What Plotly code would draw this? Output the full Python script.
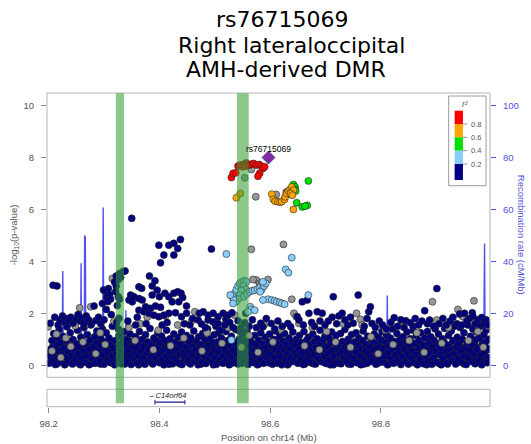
import plotly.graph_objects as go

# ---------------- data ----------------
lead_snp = "rs76715069"
lead_pos = 98.597
lead_logp = 7.99

# recombination rate (cM/Mb) along the region
rec_pos = [98.197, 98.205, 98.215, 98.2245, 98.2255, 98.2265, 98.240, 98.2575, 98.2585, 98.2595,
           98.2642, 98.2650, 98.2656, 98.2662, 98.2672, 98.280, 98.2975, 98.2985, 98.2995, 98.320,
           98.3385, 98.3395, 98.3405, 98.380, 98.450, 98.520, 98.600, 98.6755, 98.6765, 98.6775,
           98.740, 98.8105, 98.8115, 98.8125, 98.8155, 98.8165, 98.8175, 98.880, 98.9355, 98.9365,
           98.9375, 98.980, 98.9855, 98.9862, 98.9872, 98.9882, 98.997]
rec_rate = [1.5, 2.0, 1.2, 1.0, 36.3, 1.5, 2.2, 2.0, 39.2, 2.5,
            3.0, 50.0, 6.0, 49.5, 3.0, 1.8, 1.0, 60.7, 1.2, 2.0,
            1.5, 21.2, 1.5, 2.5, 3.0, 2.0, 1.5, 1.0, 11.0, 1.0,
            2.0, 1.8, 26.8, 2.0, 1.5, 18.0, 1.5, 3.0, 1.0, 10.0,
            1.0, 2.5, 3.0, 46.8, 46.8, 4.0, 4.0]

# DMR intervals (Mb)
dmr_regions = [(98.3212, 98.3361), (98.5402, 98.5612)]

# gene track
gene_name = "C14orf64"
gene_start, gene_end = 98.392, 98.446

# SNPs with r2 < 0.2 (position Mb, -log10 p)
snps_navy_base = [
    (98.201, 0.08), (98.203, 0.35), (98.204, 0.62), (98.206, 0.95), (98.207, 0.18), (98.209, 1.22), (98.210, 0.48), (98.212, 0.03), (98.213, 0.77), (98.215, 1.05),
    (98.216, 0.27), (98.218, 0.55), (98.219, 1.38), (98.221, 0.12), (98.222, 0.88), (98.224, 0.41), (98.226, 1.12), (98.227, 0.66), (98.229, 0.02), (98.230, 0.31),
    (98.232, 0.95), (98.233, 1.48), (98.235, 0.52), (98.236, 0.15), (98.238, 0.74), (98.239, 1.25), (98.241, 0.37), (98.243, 0.05), (98.244, 0.99), (98.246, 0.60),
    (98.247, 1.62), (98.249, 0.22), (98.250, 0.83),
    (98.252, 1.35), (98.253, 0.44), (98.255, 0.06), (98.256, 0.71), (98.258, 1.08), (98.259, 0.29), (98.261, 0.92), (98.263, 0.53), (98.264, 1.45), (98.266, 0.12),
    (98.267, 0.80), (98.269, 0.36), (98.270, 1.18), (98.272, 0.62), (98.273, 0.02), (98.275, 0.97), (98.276, 1.55), (98.278, 0.25), (98.280, 0.70), (98.281, 0.45),
    (98.283, 1.10), (98.284, 0.08), (98.286, 0.86), (98.287, 1.32), (98.289, 0.33), (98.290, 0.58), (98.292, 0.15), (98.294, 1.02), (98.295, 0.75), (98.297, 1.40),
    (98.298, 0.40), (98.300, 0.04),
    (98.301, 0.90), (98.303, 0.60), (98.304, 1.25), (98.306, 0.20), (98.307, 0.50), (98.309, 1.05), (98.311, 0.78), (98.312, 0.10), (98.314, 0.35), (98.315, 1.50),
    (98.317, 0.66), (98.319, 0.02), (98.320, 0.95), (98.322, 0.42), (98.323, 0.18), (98.325, 0.72), (98.327, 1.15), (98.328, 0.30), (98.330, 0.55), (98.331, 0.06),
    (98.333, 0.88), (98.335, 0.25), (98.336, 1.30), (98.338, 0.47), (98.339, 0.80), (98.341, 0.12), (98.342, 1.00), (98.344, 0.58), (98.346, 0.34), (98.347, 1.20),
    (98.349, 0.03), (98.350, 0.70),
    (98.352, 0.92), (98.353, 0.20), (98.355, 0.48), (98.357, 1.10), (98.358, 0.65), (98.360, 0.08), (98.361, 0.38), (98.363, 0.85), (98.364, 1.30), (98.366, 0.15),
    (98.368, 0.55), (98.369, 1.00), (98.371, 0.28), (98.372, 0.74), (98.374, 0.04), (98.375, 1.18), (98.377, 0.45), (98.379, 0.90), (98.380, 0.62), (98.382, 0.18),
    (98.383, 1.42), (98.385, 0.33), (98.386, 0.80), (98.388, 0.05), (98.390, 1.05), (98.391, 0.52), (98.393, 0.26), (98.394, 0.96), (98.396, 0.68), (98.397, 1.25),
    (98.399, 0.12),
    (98.401, 0.43), (98.402, 0.87), (98.404, 1.12), (98.405, 0.22), (98.407, 0.60), (98.408, 0.02), (98.410, 0.95), (98.412, 0.36), (98.413, 1.35), (98.415, 0.70),
    (98.416, 0.14), (98.418, 0.50), (98.419, 1.02), (98.421, 0.82), (98.423, 0.30), (98.424, 0.06), (98.426, 1.20), (98.427, 0.58), (98.429, 0.90), (98.430, 0.24),
    (98.432, 0.66), (98.434, 1.08), (98.435, 0.10), (98.437, 0.44), (98.438, 0.79), (98.440, 1.28), (98.441, 0.03), (98.443, 0.55), (98.445, 0.97), (98.446, 0.32),
    (98.448, 0.70), (98.449, 1.15),
    (98.451, 0.20), (98.452, 0.50), (98.454, 0.88), (98.456, 0.05), (98.457, 1.05), (98.459, 0.40), (98.460, 0.72), (98.462, 1.32), (98.463, 0.16), (98.465, 0.60),
    (98.467, 0.93), (98.468, 0.28), (98.470, 0.02), (98.471, 1.10), (98.473, 0.47), (98.474, 0.80), (98.476, 0.12), (98.478, 1.22), (98.479, 0.64), (98.481, 0.35),
    (98.482, 0.98), (98.484, 0.07), (98.485, 0.55), (98.487, 1.40), (98.489, 0.25), (98.490, 0.76), (98.492, 1.02), (98.493, 0.42), (98.495, 0.14), (98.496, 0.86),
    (98.498, 0.62), (98.499, 1.18),
    (98.501, 0.30), (98.503, 0.04), (98.504, 0.90), (98.506, 0.52), (98.507, 1.25), (98.509, 0.18), (98.511, 0.70), (98.512, 1.05), (98.514, 0.38), (98.515, 0.08),
    (98.517, 0.84), (98.518, 0.60), (98.520, 1.30), (98.522, 0.22), (98.523, 0.95), (98.525, 0.45), (98.526, 0.02), (98.528, 0.75), (98.530, 1.12), (98.531, 0.32),
    (98.533, 0.58), (98.534, 0.10), (98.536, 0.88), (98.538, 1.38), (98.539, 0.42), (98.541, 0.68), (98.542, 0.05), (98.544, 1.00), (98.545, 0.27), (98.547, 0.80),
    (98.549, 0.50), (98.550, 1.20),
    (98.552, 0.14), (98.553, 0.62), (98.555, 0.95), (98.556, 0.35), (98.558, 1.30), (98.560, 0.03), (98.561, 0.72), (98.563, 0.48), (98.564, 1.05), (98.566, 0.20),
    (98.568, 0.85), (98.569, 0.56), (98.571, 0.10), (98.572, 1.15), (98.574, 0.38), (98.575, 0.78), (98.577, 0.02), (98.579, 0.97), (98.580, 0.60), (98.582, 0.25),
    (98.583, 1.25), (98.585, 0.45), (98.587, 0.82), (98.588, 0.08), (98.590, 0.66), (98.591, 1.08), (98.593, 0.30), (98.594, 0.52), (98.596, 0.90), (98.598, 0.15),
    (98.599, 1.20),
    (98.601, 0.42), (98.602, 0.75), (98.604, 0.04), (98.606, 1.00), (98.607, 0.28), (98.609, 0.60), (98.610, 1.32), (98.612, 0.86), (98.614, 0.12), (98.615, 0.50),
    (98.617, 1.10), (98.618, 0.35), (98.620, 0.70), (98.621, 0.02), (98.623, 0.94), (98.625, 0.58), (98.626, 1.22), (98.628, 0.20), (98.629, 0.80), (98.631, 0.44),
    (98.633, 0.06), (98.634, 1.05), (98.636, 0.65), (98.637, 0.30), (98.639, 0.90), (98.641, 1.28), (98.642, 0.15), (98.644, 0.52), (98.645, 0.78), (98.647, 1.00),
    (98.648, 0.36), (98.650, 0.08),
    (98.652, 0.62), (98.653, 1.15), (98.655, 0.25), (98.656, 0.88), (98.658, 0.45), (98.660, 0.03), (98.661, 1.30), (98.663, 0.70), (98.664, 0.18), (98.666, 0.96),
    (98.668, 0.55), (98.669, 1.08), (98.671, 0.32), (98.672, 0.80), (98.674, 0.10), (98.675, 0.60), (98.677, 1.20), (98.679, 0.40), (98.680, 0.92), (98.682, 0.05),
    (98.683, 0.68), (98.685, 1.02), (98.687, 0.24), (98.688, 0.50), (98.690, 1.35), (98.691, 0.84), (98.693, 0.14), (98.695, 0.60), (98.696, 0.98), (98.698, 0.35),
    (98.699, 1.12),
    (98.701, 0.07), (98.703, 0.72), (98.704, 0.46), (98.706, 1.05), (98.707, 0.20), (98.709, 0.88), (98.711, 1.28), (98.712, 0.58), (98.714, 0.02), (98.715, 0.36),
    (98.717, 0.95), (98.719, 1.15), (98.720, 0.65), (98.722, 0.13), (98.723, 0.82), (98.725, 0.42), (98.727, 1.22), (98.728, 0.06), (98.730, 0.55), (98.731, 0.92),
    (98.733, 0.28), (98.735, 1.38), (98.736, 0.70), (98.738, 0.16), (98.739, 0.48), (98.741, 1.00), (98.743, 0.85), (98.744, 0.33), (98.746, 0.04), (98.747, 1.18),
    (98.749, 0.62),
    (98.751, 0.25), (98.752, 0.90), (98.754, 0.50), (98.755, 1.25), (98.757, 0.10), (98.759, 0.75), (98.760, 1.05), (98.762, 0.38), (98.764, 0.02), (98.765, 0.62),
    (98.767, 0.95), (98.768, 1.32), (98.770, 0.20), (98.772, 0.55), (98.773, 0.82), (98.775, 0.08), (98.776, 1.12), (98.778, 0.45), (98.780, 0.70), (98.781, 0.30),
    (98.783, 1.00), (98.784, 0.15), (98.786, 0.58), (98.788, 1.20), (98.789, 0.86), (98.791, 0.04), (98.792, 0.40), (98.794, 0.68), (98.796, 1.08), (98.797, 0.22),
    (98.799, 0.52),
    (98.801, 0.96), (98.802, 1.30), (98.804, 0.12), (98.805, 0.64), (98.807, 0.35), (98.809, 0.88), (98.810, 1.15), (98.812, 0.02), (98.813, 0.48), (98.815, 0.76),
    (98.817, 1.05), (98.818, 0.26), (98.820, 0.60), (98.821, 1.40), (98.823, 0.08), (98.825, 0.92), (98.826, 0.40), (98.828, 0.70), (98.829, 1.22), (98.831, 0.18),
    (98.833, 0.55), (98.834, 0.98), (98.836, 0.03), (98.837, 0.82), (98.839, 0.32), (98.840, 1.10), (98.842, 0.62), (98.844, 0.14), (98.845, 0.90), (98.847, 1.28),
    (98.848, 0.45), (98.850, 0.06),
    (98.852, 0.74), (98.853, 1.02), (98.855, 0.28), (98.856, 0.56), (98.858, 1.35), (98.860, 0.10), (98.861, 0.85), (98.863, 0.42), (98.864, 1.15), (98.866, 0.02),
    (98.868, 0.66), (98.869, 0.95), (98.871, 0.22), (98.872, 1.25), (98.874, 0.50), (98.876, 0.78), (98.877, 0.06), (98.879, 1.05), (98.880, 0.36), (98.882, 0.60),
    (98.884, 1.30), (98.885, 0.15), (98.887, 0.88), (98.888, 0.46), (98.890, 1.10), (98.892, 0.04), (98.893, 0.70), (98.895, 0.30), (98.896, 0.96), (98.898, 1.40),
    (98.899, 0.55),
    (98.901, 0.12), (98.903, 0.80), (98.904, 1.20), (98.906, 0.40), (98.907, 0.65), (98.909, 0.02), (98.911, 1.02), (98.912, 0.28), (98.914, 0.90), (98.915, 1.42),
    (98.917, 0.52), (98.919, 0.08), (98.920, 0.75), (98.922, 1.15), (98.923, 0.35), (98.925, 0.60), (98.927, 1.32), (98.928, 0.18), (98.930, 0.95), (98.931, 0.45),
    (98.933, 1.50), (98.935, 0.05), (98.936, 0.70), (98.938, 1.08), (98.939, 0.25), (98.941, 0.85), (98.943, 1.45), (98.944, 0.55), (98.946, 0.12), (98.947, 1.00),
    (98.949, 0.38),
    (98.950, 1.25), (98.952, 0.66), (98.954, 0.03), (98.955, 0.90), (98.957, 1.55), (98.958, 0.30), (98.960, 0.58), (98.962, 1.12), (98.963, 0.15), (98.965, 0.80),
    (98.966, 1.40), (98.968, 0.44), (98.970, 0.06), (98.971, 0.98), (98.973, 1.28), (98.974, 0.62), (98.976, 0.22), (98.978, 1.05), (98.979, 1.50), (98.981, 0.40),
    (98.982, 0.02), (98.984, 0.75), (98.986, 1.18), (98.987, 0.52), (98.989, 0.90), (98.990, 1.35), (98.992, 0.10), (98.993, 0.65), (98.995, 1.00),
]

# further weakly associated SNPs packed near the baseline
snps_navy_low = [
    (98.2005, 0.45), (98.2035, 0.15), (98.2065, 0.70), (98.2085, 0.30), (98.2115, 0.58), (98.2145, 0.05), (98.2175, 0.82), (98.2195, 0.40),
    (98.2235, 0.20), (98.2255, 0.65), (98.2285, 0.50), (98.2315, 0.08), (98.2345, 0.78), (98.2375, 0.32), (98.2405, 0.60), (98.2425, 0.10),
    (98.2455, 0.42), (98.2485, 0.72), (98.2515, 0.18), (98.2545, 0.55), (98.2575, 0.02), (98.2605, 0.66), (98.2625, 0.30), (98.2655, 0.85),
    (98.2685, 0.12), (98.2715, 0.48), (98.2745, 0.75), (98.2775, 0.38), (98.2795, 0.08), (98.2825, 0.60), (98.2855, 0.25), (98.2885, 0.80),
    (98.2915, 0.52), (98.2935, 0.05), (98.2965, 0.68), (98.2995, 0.22), (98.3025, 0.40), (98.3055, 0.75), (98.3085, 0.15), (98.3105, 0.55),
    (98.3135, 0.85), (98.3165, 0.30), (98.3185, 0.62), (98.3215, 0.10), (98.3245, 0.50), (98.3265, 0.78), (98.3295, 0.20), (98.3325, 0.65),
    (98.3345, 0.42), (98.3375, 0.05), (98.3405, 0.70), (98.3435, 0.28), (98.3455, 0.82), (98.3485, 0.48), (98.3515, 0.12), (98.3545, 0.60),
    (98.3565, 0.35), (98.3595, 0.78), (98.3625, 0.02), (98.3655, 0.45), (98.3675, 0.70), (98.3705, 0.18), (98.3735, 0.55), (98.3765, 0.85),
    (98.3785, 0.25), (98.3815, 0.62), (98.3845, 0.40), (98.3875, 0.08), (98.3895, 0.75), (98.3925, 0.30), (98.3955, 0.50), (98.3985, 0.80),
    (98.4005, 0.10), (98.4035, 0.65), (98.4065, 0.35), (98.4085, 0.72), (98.4115, 0.20), (98.4145, 0.55), (98.4175, 0.04), (98.4195, 0.82),
    (98.4225, 0.45), (98.4255, 0.15), (98.4285, 0.68), (98.4305, 0.32), (98.4335, 0.58), (98.4365, 0.06), (98.4395, 0.80), (98.4415, 0.40),
    (98.4445, 0.22), (98.4475, 0.62), (98.4505, 0.48), (98.4535, 0.10), (98.4555, 0.75), (98.4585, 0.28), (98.4615, 0.55), (98.4645, 0.85),
    (98.4665, 0.15), (98.4695, 0.42), (98.4725, 0.70), (98.4755, 0.05), (98.4775, 0.58), (98.4805, 0.30), (98.4835, 0.80), (98.4865, 0.18),
    (98.4885, 0.50), (98.4915, 0.65), (98.4945, 0.35), (98.4975, 0.02), (98.4995, 0.78), (98.5025, 0.45), (98.5055, 0.20), (98.5085, 0.62),
    (98.5105, 0.38), (98.5135, 0.85), (98.5165, 0.10), (98.5195, 0.55), (98.5215, 0.72), (98.5245, 0.28), (98.5275, 0.05), (98.5305, 0.60),
    (98.5325, 0.42), (98.5355, 0.80), (98.5385, 0.15), (98.5405, 0.52), (98.5435, 0.70), (98.5465, 0.32), (98.5495, 0.08), (98.5525, 0.78),
    (98.5545, 0.45), (98.5575, 0.20), (98.5605, 0.65), (98.5635, 0.38), (98.5655, 0.85), (98.5685, 0.12), (98.5715, 0.55), (98.5745, 0.30),
    (98.5765, 0.72), (98.5795, 0.05), (98.5825, 0.48), (98.5855, 0.80), (98.5875, 0.25), (98.5905, 0.60), (98.5935, 0.40), (98.5965, 0.10),
    (98.5985, 0.75), (98.6015, 0.22), (98.6045, 0.55), (98.6075, 0.82), (98.6095, 0.35), (98.6125, 0.08), (98.6155, 0.65), (98.6185, 0.45),
    (98.6205, 0.15), (98.6235, 0.72), (98.6265, 0.30), (98.6295, 0.58), (98.6315, 0.02), (98.6345, 0.80), (98.6375, 0.42), (98.6405, 0.20),
    (98.6425, 0.62), (98.6455, 0.35), (98.6485, 0.85), (98.6515, 0.10), (98.6535, 0.50), (98.6565, 0.70), (98.6595, 0.28), (98.6625, 0.05),
    (98.6645, 0.60), (98.6675, 0.40), (98.6705, 0.78), (98.6735, 0.18), (98.6755, 0.52), (98.6785, 0.06), (98.6815, 0.68), (98.6845, 0.32),
    (98.6865, 0.82), (98.6895, 0.22), (98.6925, 0.45), (98.6955, 0.60), (98.6975, 0.12), (98.7005, 0.75), (98.7035, 0.38), (98.7065, 0.55),
    (98.7085, 0.02), (98.7115, 0.85), (98.7145, 0.48), (98.7175, 0.25), (98.7195, 0.62), (98.7225, 0.08), (98.7255, 0.70), (98.7285, 0.40),
    (98.7305, 0.18), (98.7335, 0.58), (98.7365, 0.80), (98.7395, 0.30), (98.7415, 0.05), (98.7445, 0.65), (98.7475, 0.45), (98.7505, 0.12),
    (98.7525, 0.72), (98.7555, 0.35), (98.7585, 0.55), (98.7615, 0.85), (98.7635, 0.20), (98.7665, 0.42), (98.7695, 0.05), (98.7725, 0.68),
    (98.7745, 0.30), (98.7775, 0.60), (98.7805, 0.15), (98.7835, 0.78), (98.7855, 0.48), (98.7885, 0.25), (98.7915, 0.62), (98.7945, 0.08),
    (98.7965, 0.82), (98.7995, 0.40), (98.8025, 0.18), (98.8055, 0.55), (98.8075, 0.70), (98.8105, 0.32), (98.8135, 0.05), (98.8165, 0.62),
    (98.8185, 0.85), (98.8215, 0.22), (98.8245, 0.48), (98.8275, 0.12), (98.8295, 0.68), (98.8325, 0.38), (98.8355, 0.80), (98.8385, 0.15),
    (98.8405, 0.58), (98.8435, 0.30), (98.8465, 0.72), (98.8495, 0.05), (98.8515, 0.45), (98.8545, 0.62), (98.8575, 0.20), (98.8605, 0.82),
    (98.8625, 0.35), (98.8655, 0.55), (98.8685, 0.10), (98.8715, 0.75), (98.8735, 0.42), (98.8765, 0.25), (98.8795, 0.65), (98.8825, 0.02),
    (98.8845, 0.50), (98.8875, 0.80), (98.8905, 0.30), (98.8935, 0.60), (98.8955, 0.15), (98.8985, 0.72), (98.9015, 0.42), (98.9045, 0.08),
    (98.9065, 0.85), (98.9095, 0.55), (98.9125, 0.20), (98.9155, 0.65), (98.9175, 0.35), (98.9205, 0.05), (98.9235, 0.78), (98.9265, 0.48),
    (98.9285, 0.22), (98.9315, 0.62), (98.9345, 0.38), (98.9375, 0.82), (98.9395, 0.12), (98.9425, 0.50), (98.9455, 0.70), (98.9485, 0.28),
    (98.9505, 0.05), (98.9535, 0.60), (98.9565, 0.42), (98.9595, 0.80), (98.9615, 0.18), (98.9645, 0.55), (98.9675, 0.32), (98.9705, 0.75),
    (98.9725, 0.10), (98.9755, 0.48), (98.9785, 0.65), (98.9815, 0.25), (98.9835, 0.85), (98.9865, 0.40), (98.9895, 0.15), (98.9925, 0.60),
    (98.9945, 0.30),
]

snps_navy_mid = [
    (98.203, 1.62), (98.208, 3.08), (98.211, 1.85), (98.215, 3.05), (98.217, 1.55), (98.220, 1.75), (98.225, 1.90), (98.228, 1.68), (98.232, 1.80), (98.236, 1.72),
    (98.240, 1.85), (98.244, 1.62), (98.249, 1.78), (98.253, 1.95), (98.257, 1.70), (98.260, 1.82), (98.264, 1.60), (98.268, 1.90), (98.272, 1.75), (98.277, 1.58),
    (98.282, 2.28), (98.285, 1.72), (98.290, 1.85), (98.294, 1.60), (98.297, 2.38), (98.299, 2.90), (98.302, 2.85), (98.304, 2.15), (98.305, 2.62), (98.307, 2.45),
    (98.308, 2.95), (98.310, 2.72), (98.312, 2.55), (98.313, 1.95), (98.300, 1.75),
    (98.322, 3.43), (98.328, 3.53), (98.334, 3.60), (98.338, 3.63), (98.330, 3.38), (98.325, 3.28), (98.319, 3.20), (98.322, 3.05), (98.321, 2.83), (98.326, 2.64),
    (98.328, 2.54), (98.324, 2.30), (98.327, 1.81), (98.326, 1.40), (98.331, 1.10), (98.323, 1.65),
    (98.350, 5.65), (98.343, 1.70), (98.345, 2.51), (98.348, 2.70), (98.351, 2.44), (98.354, 2.64), (98.357, 1.55), (98.360, 1.85), (98.363, 2.57), (98.363, 3.02),
    (98.363, 2.12), (98.368, 2.96), (98.369, 2.51), (98.372, 2.06), (98.375, 2.25), (98.376, 1.60), (98.381, 2.00), (98.382, 3.43), (98.384, 2.19), (98.387, 3.05),
    (98.387, 2.70), (98.390, 1.93), (98.392, 3.25), (98.393, 2.28), (98.396, 2.89), (98.399, 1.87), (98.399, 4.62), (98.400, 2.64), (98.402, 2.23), (98.402, 3.94),
    (98.405, 1.55), (98.408, 1.93), (98.408, 4.24), (98.410, 2.77), (98.414, 1.65), (98.417, 2.00), (98.417, 2.64), (98.417, 4.62), (98.423, 2.44), (98.426, 2.77),
    (98.426, 4.24), (98.426, 4.69), (98.429, 2.02), (98.433, 2.83), (98.433, 4.49), (98.435, 2.44), (98.438, 4.84), (98.439, 2.77), (98.440, 1.87), (98.442, 2.61),
    (98.445, 1.60), (98.449, 2.28), (98.449, 2.00),
    (98.455, 1.55), (98.460, 1.80), (98.470, 1.74), (98.472, 2.00), (98.476, 1.59), (98.479, 2.06), (98.483, 1.45), (98.488, 1.74), (98.488, 1.93), (98.494, 4.47),
    (98.497, 1.67), (98.497, 2.00), (98.502, 1.50), (98.506, 1.61), (98.506, 1.87), (98.510, 1.35), (98.515, 2.00), (98.518, 1.55), (98.520, 1.77), (98.524, 1.93),
    (98.527, 1.65), (98.531, 2.02), (98.533, 1.45),
    (98.542, 1.71), (98.556, 2.00), (98.554, 1.64), (98.548, 1.45), (98.545, 1.30),
    (98.562, 1.50), (98.568, 1.75), (98.575, 1.45), (98.583, 1.62), (98.587, 1.48), (98.593, 1.80), (98.602, 1.61), (98.608, 1.40), (98.614, 1.70), (98.622, 1.50),
    (98.632, 1.61), (98.637, 1.48), (98.649, 1.87), (98.652, 1.74), (98.658, 2.44), (98.660, 1.55), (98.667, 2.51), (98.670, 2.00), (98.675, 1.65), (98.680, 1.50),
    (98.685, 2.06), (98.690, 1.70), (98.694, 2.00), (98.699, 1.55), (98.705, 1.70), (98.714, 2.64), (98.712, 1.85),
    (98.720, 1.60), (98.724, 1.90), (98.730, 2.00), (98.735, 1.75), (98.740, 1.55), (98.745, 1.85), (98.750, 1.62), (98.759, 2.70), (98.770, 1.50), (98.775, 1.80),
    (98.778, 2.06), (98.781, 2.25), (98.784, 1.61), (98.790, 1.45), (98.797, 1.70), (98.803, 1.55), (98.810, 1.40), (98.818, 1.65), (98.824, 1.83), (98.830, 1.50),
    (98.836, 1.75), (98.842, 1.45), (98.845, 1.71), (98.853, 1.64), (98.858, 1.50), (98.862, 1.80), (98.868, 1.55), (98.874, 1.70), (98.879, 2.10), (98.884, 1.60),
    (98.888, 1.74), (98.895, 1.50), (98.901, 2.95), (98.905, 1.60), (98.912, 1.80), (98.918, 1.55), (98.925, 1.70), (98.930, 1.85), (98.937, 1.60), (98.942, 1.97),
    (98.946, 1.55), (98.951, 2.00), (98.955, 1.70), (98.960, 1.80), (98.965, 2.02), (98.966, 1.89), (98.970, 1.60), (98.975, 1.75), (98.982, 1.84), (98.986, 1.60),
    (98.990, 1.75), (98.994, 1.55),
]

# SNPs without LD information
snps_gray = [
    (98.199, 1.48), (98.206, 0.55), (98.214, 1.20), (98.222, 0.30), (98.231, 1.05), (98.240, 0.72), (98.248, 1.52), (98.256, 2.21), (98.262, 0.90), (98.268, 1.60),
    (98.276, 2.25), (98.285, 0.45), (98.293, 1.25), (98.302, 0.80), (98.315, 3.34), (98.318, 1.70), (98.345, 1.45), (98.356, 0.95), (98.366, 1.60), (98.378, 1.85),
    (98.389, 0.60), (98.398, 1.35), (98.411, 1.90), (98.420, 0.75), (98.433, 1.55), (98.444, 1.05), (98.458, 1.70), (98.464, 2.06), (98.477, 0.55), (98.486, 1.25),
    (98.500, 1.65), (98.513, 0.85), (98.524, 1.45), (98.536, 1.93), (98.548, 0.70), (98.562, 1.15), (98.578, 0.50), (98.589, 1.55), (98.605, 0.90), (98.619, 1.40),
    (98.643, 2.00), (98.647, 1.87), (98.652, 1.61), (98.662, 0.75), (98.676, 1.45), (98.689, 0.60), (98.702, 1.30), (98.718, 0.90), (98.732, 1.60), (98.745, 0.70),
    (98.756, 2.00), (98.763, 1.77), (98.766, 1.55), (98.782, 1.10), (98.795, 0.45), (98.808, 1.35), (98.822, 0.80), (98.838, 1.50), (98.851, 0.95), (98.865, 1.25),
    (98.878, 0.50), (98.893, 2.44), (98.901, 1.74), (98.910, 0.85), (98.922, 1.45), (98.939, 2.15), (98.948, 1.87), (98.958, 0.95), (98.968, 2.48), (98.975, 1.30),
    (98.985, 0.70), (98.994, 1.50),
    (98.566, 7.53), (98.554, 7.21), (98.574, 6.48), (98.611, 6.57), (98.629, 6.66), (98.634, 6.58), (98.624, 4.65), (98.566, 4.46), (98.639, 2.54), (98.575, 3.28),
    (98.596, 3.30), (98.569, 3.30), (98.581, 3.15), (98.584, 3.12),
]

# 0.2 <= r2 < 0.4
snps_lightblue = [
    (98.521, 4.28), (98.639, 4.14), (98.628, 3.69), (98.633, 3.56),
    (98.536, 2.77), (98.539, 2.92), (98.542, 3.05), (98.545, 3.15), (98.549, 3.21), (98.553, 3.25), (98.557, 3.21), (98.552, 3.05), (98.556, 2.92), (98.548, 2.87),
    (98.545, 2.70), (98.552, 2.64), (98.558, 2.74), (98.542, 2.54), (98.538, 2.44),
    (98.532, 2.64), (98.534, 2.51), (98.528, 2.70), (98.533, 2.38), (98.530, 0.97),
    (98.563, 2.83), (98.568, 2.87), (98.572, 2.89), (98.577, 2.93), (98.581, 2.98), (98.585, 2.92), (98.589, 3.05), (98.592, 3.15), (98.587, 3.21), (98.582, 2.83),
    (98.596, 2.54), (98.603, 2.51), (98.608, 2.48), (98.612, 2.44), (98.617, 2.42), (98.621, 2.38), (98.626, 2.35), (98.587, 2.51), (98.564, 2.25), (98.566, 2.15),
    (98.560, 2.06), (98.669, 2.70), (98.572, 2.12),
]

# 0.4 <= r2 < 0.6
snps_green = [
    (98.642, 6.95), (98.645, 6.86), (98.644, 6.77), (98.646, 6.70), (98.669, 7.09), (98.648, 6.25), (98.658, 6.09), (98.667, 6.15), (98.663, 6.12),
]

# 0.6 <= r2 < 0.8
snps_orange = [
    (98.539, 6.44), (98.546, 6.61), (98.603, 6.58), (98.606, 6.38), (98.609, 6.31), (98.614, 6.29), (98.618, 6.27), (98.621, 6.30), (98.626, 6.38), (98.627, 6.48),
    (98.630, 6.61), (98.633, 6.71), (98.636, 6.76), (98.639, 6.86), (98.642, 6.73), (98.637, 6.61), (98.640, 6.54), (98.642, 5.99),
]

# r2 >= 0.8
snps_red = [
    (98.530, 7.22), (98.533, 7.38), (98.538, 7.40), (98.542, 7.66), (98.546, 7.70), (98.550, 7.63), (98.552, 7.73), (98.557, 7.78), (98.556, 7.66), (98.562, 7.70),
    (98.566, 7.73), (98.570, 7.76), (98.575, 7.70), (98.580, 7.72), (98.584, 7.66), (98.587, 7.57), (98.590, 7.63), (98.581, 7.38), (98.578, 7.27),
]

r2_breaks = ["0.8", "0.6", "0.4", "0.2"]
r2_colors = ["#FF0000", "#FFA500", "#00E000", "#87CEFA", "#000080"]

# ---------------- layout helpers ----------------
W, H = 531, 444
ML, MR, MT, MB = 47, 37, 93, 37
PW, PH = W - ML - MR, H - MT - MB


def fx(p):
    return (p - ML) / PW


def fy(p):
    return (H - MB - p) / PH


MAIN_DOM = [fy(377.3), 1.0]
GENE_DOM = [0.0, fy(389.3)]
LOGP_RANGE = [-0.46, 10.47]
REC_RANGE = [-4.6, 104.7]
X_RANGE = [98.197, 98.997]

FONT = "Liberation Sans, Arial, sans-serif"
AXIS_FONT = dict(family=FONT, size=9.5, color="#555555")
REC_COLOR = "#5252DC"

fig = go.Figure()

# recombination rate (drawn underneath the SNPs)
fig.add_trace(go.Scatter(x=rec_pos, y=rec_rate, mode="lines", xaxis="x", yaxis="y",
                         line=dict(color="rgba(50,50,235,0.85)", width=1.4),
                         hoverinfo="skip", showlegend=False))


def add_snps(points, fill, size=7):
    xs, ys = zip(*points)
    fig.add_trace(go.Scatter(x=list(xs), y=list(ys), mode="markers", xaxis="x", yaxis="y3",
                             marker=dict(size=size, color=fill, line=dict(color="#262626", width=0.6)),
                             showlegend=False))


add_snps(snps_navy_low, "#000080")
add_snps(snps_navy_base, "#000080")
add_snps(snps_gray, "#969696")
add_snps(snps_navy_mid, "#000080")
add_snps(snps_lightblue, "#87CEFA")
add_snps(snps_green, "#00E000")
add_snps(snps_orange, "#FFA500")
add_snps(snps_red, "#FF0000")

fig.add_trace(go.Scatter(x=[lead_pos], y=[lead_logp], mode="markers", xaxis="x", yaxis="y3",
                         marker=dict(symbol="diamond", size=10, color="#7B2DA6",
                                     line=dict(color="#3a1050", width=0.6)),
                         showlegend=False))

# gene model
fig.add_trace(go.Scatter(x=[gene_start, gene_end], y=[0.27, 0.27], mode="lines", xaxis="x", yaxis="y2",
                         line=dict(color="#1c1c96", width=1.2), showlegend=False, hoverinfo="skip"))

shapes = []
for g in (gene_start, gene_end):
    shapes.append(dict(type="line", xref="x", yref="y2", x0=g, x1=g, y0=0.14, y1=0.40,
                       line=dict(color="#1c1c96", width=1)))

# panel frames
shapes.append(dict(type="rect", xref="paper", yref="paper", x0=0, x1=1, y0=MAIN_DOM[0], y1=MAIN_DOM[1],
                   line=dict(color="#b4b4b4", width=1), layer="above"))
shapes.append(dict(type="rect", xref="paper", yref="paper", x0=0, x1=1, y0=GENE_DOM[0] + 0.001, y1=GENE_DOM[1],
                   line=dict(color="#b4b4b4", width=1), layer="above"))

# DMR highlight bands
for a, b in dmr_regions:
    shapes.append(dict(type="rect", xref="x", yref="paper", x0=a, x1=b, y0=fy(403.3), y1=0.999,
                       fillcolor="rgba(53,158,53,0.57)", line=dict(width=0), layer="above"))

# r2 colour key
shapes.append(dict(type="rect", xref="paper", yref="paper", x0=fx(452.3), x1=fx(490), y0=fy(185.7), y1=fy(96),
                   fillcolor="white", line=dict(color="#9a9a9a", width=1), layer="above"))
key_edges = [110.7, 124.0, 137.3, 150.7, 164.0, 180.0]
for i, col in enumerate(r2_colors):
    shapes.append(dict(type="rect", xref="paper", yref="paper", x0=fx(458.3), x1=fx(466.7),
                       y0=fy(key_edges[i + 1]), y1=fy(key_edges[i]),
                       fillcolor=col, line=dict(width=0), layer="above"))
for e in key_edges[1:5]:
    shapes.append(dict(type="line", xref="paper", yref="paper", x0=fx(466.7), x1=fx(471), y0=fy(e), y1=fy(e),
                       line=dict(color="#777777", width=0.8), layer="above"))

annotations = []
for lab, e in zip(r2_breaks, key_edges[1:5]):
    annotations.append(dict(text=lab, xref="paper", yref="paper", x=fx(472.5), y=fy(e), xanchor="left",
                            yanchor="middle", showarrow=False,
                            font=dict(family=FONT, size=7.5, color="#555555")))
annotations.append(dict(text="<i>r\u00b2</i>", xref="paper", yref="paper", x=fx(469), y=fy(104),
                        xanchor="center", yanchor="middle", showarrow=False,
                        font=dict(family=FONT, size=8.5, color="#555555")))

# titles
title_lines = [("rs76715069", 284, 20), ("Right lateraloccipital", 294, 45), ("AMH-derived DMR", 288, 70)]
for txt, cx, cy in title_lines:
    annotations.append(dict(text=txt, xref="paper", yref="paper", x=fx(cx), y=fy(cy), xanchor="center",
                            yanchor="middle", showarrow=False,
                            font=dict(family="DejaVu Sans", size=22, color="black")))

annotations.append(dict(text="-log<sub>10</sub>(p-value)", xref="paper", yref="paper", x=fx(14), y=fy(235),
                        textangle=-90, showarrow=False, xanchor="center", yanchor="middle",
                        font=dict(family=FONT, size=9.5, color="#555555")))
annotations.append(dict(text="Recombination rate (cM/Mb)", xref="paper", yref="paper", x=fx(526.5), y=fy(235),
                        textangle=90, showarrow=False, xanchor="center", yanchor="middle",
                        font=dict(family=FONT, size=9.5, color=REC_COLOR)))
annotations.append(dict(text="Position on chr14 (Mb)", xref="paper", yref="paper", x=0.5, y=fy(437.7),
                        showarrow=False, xanchor="center", yanchor="middle",
                        font=dict(family=FONT, size=9.5, color="#555555")))

# lead SNP label and gene name
annotations.append(dict(text=lead_snp, x=lead_pos, y=lead_logp, xref="x", yref="y3", yshift=9,
                        showarrow=False, yanchor="middle",
                        font=dict(family=FONT, size=8.5, color="black")))
annotations.append(dict(text="\u2190<i>" + gene_name + "</i>", x=(gene_start + gene_end) / 2 - 0.006, y=0.64,
                        xref="x", yref="y2", showarrow=False, yanchor="middle",
                        font=dict(family=FONT, size=7.5, color="#222222")))

fig.update_layout(
    width=W, height=H,
    margin=dict(l=ML, r=MR, t=MT, b=MB),
    paper_bgcolor="white", plot_bgcolor="white",
    showlegend=False,
    shapes=shapes, annotations=annotations,
    xaxis=dict(range=X_RANGE, anchor="y2", tickvals=[98.2, 98.4, 98.6, 98.8],
               ticktext=["98.2", "98.4", "98.6", "98.8"], ticks="outside", ticklen=5,
               tickcolor="#8a8a8a", showgrid=False, zeroline=False, showline=False,
               tickfont=AXIS_FONT, ticklabelstandoff=3),
    yaxis=dict(domain=MAIN_DOM, range=REC_RANGE, side="right", anchor="x",
               tickvals=[0, 20, 40, 60, 80, 100], ticks="outside", ticklen=5, tickcolor=REC_COLOR,
               tickfont=dict(family=FONT, size=9.5, color=REC_COLOR),
               showgrid=False, zeroline=False, showline=False, ticklabelstandoff=5),
    yaxis2=dict(domain=GENE_DOM, range=[0, 1], anchor="x", visible=False),
    yaxis3=dict(range=LOGP_RANGE, overlaying="y", side="left", anchor="x",
                tickvals=[0, 2, 4, 6, 8, 10], ticks="outside", ticklen=5, tickcolor="#8a8a8a",
                tickfont=AXIS_FONT, showgrid=False, zeroline=False, showline=False, ticklabelstandoff=5),
)

fig.write_html("out.html")
